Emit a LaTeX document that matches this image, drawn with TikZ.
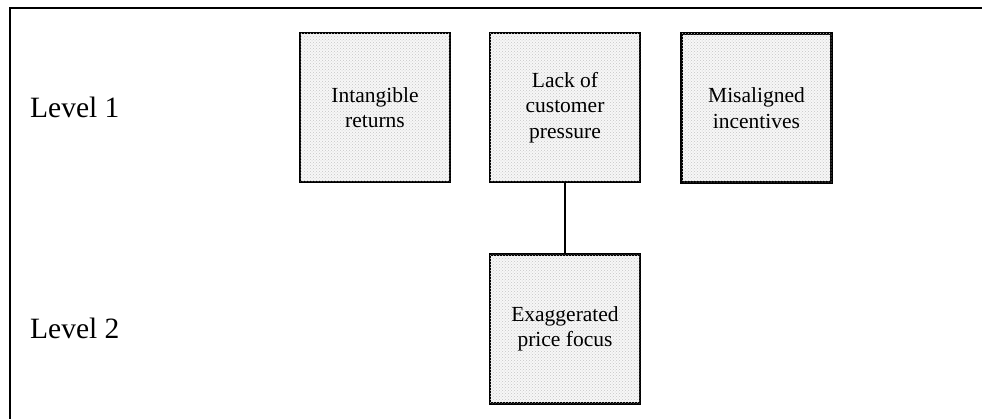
\documentclass[tikz,border=0pt]{standalone}
\usepackage{fontspec}
\setmainfont{Liberation Serif}
\usetikzlibrary{patterns}
\begin{document}
\begin{tikzpicture}[x=1pt,y=-1pt,
  factor/.style={draw=black, line width=2.8pt, minimum width=150pt, minimum height=149pt,
    fill=gray!6, postaction={pattern=crosshatch dots, pattern color=gray!45},
    align=center, inner sep=0pt,
    font=\fontsize{21.5}{25.5}\selectfont},
  level/.style={anchor=west, inner sep=0pt, font=\fontsize{29.5}{33}\selectfont},
  link/.style={line width=2.3pt}]
  \useasboundingbox (0,0) rectangle (982,419);
  \begin{scope}
    \clip (0,0) rectangle (982,419);
    \draw[line width=2pt] (10,8) rectangle (1000,440);
  \end{scope}

  \node[level] (l1) at (30,107) {Level 1};
  \node[level] (l2) at (30,328) {Level 2};

  \node[factor] (intang) at (375,107.5) {Intangible\\returns};
  \node[factor] (lack)   at (565,107.5) {Lack of\\customer\\pressure};
  \node[factor] (misal)  at (756.5,108) {Misaligned\\incentives};
  \node[factor] (exag)   at (565,329)   {Exaggerated\\price focus};

  \draw[link] (lack.south) -- (exag.north);
\end{tikzpicture}
\end{document}
